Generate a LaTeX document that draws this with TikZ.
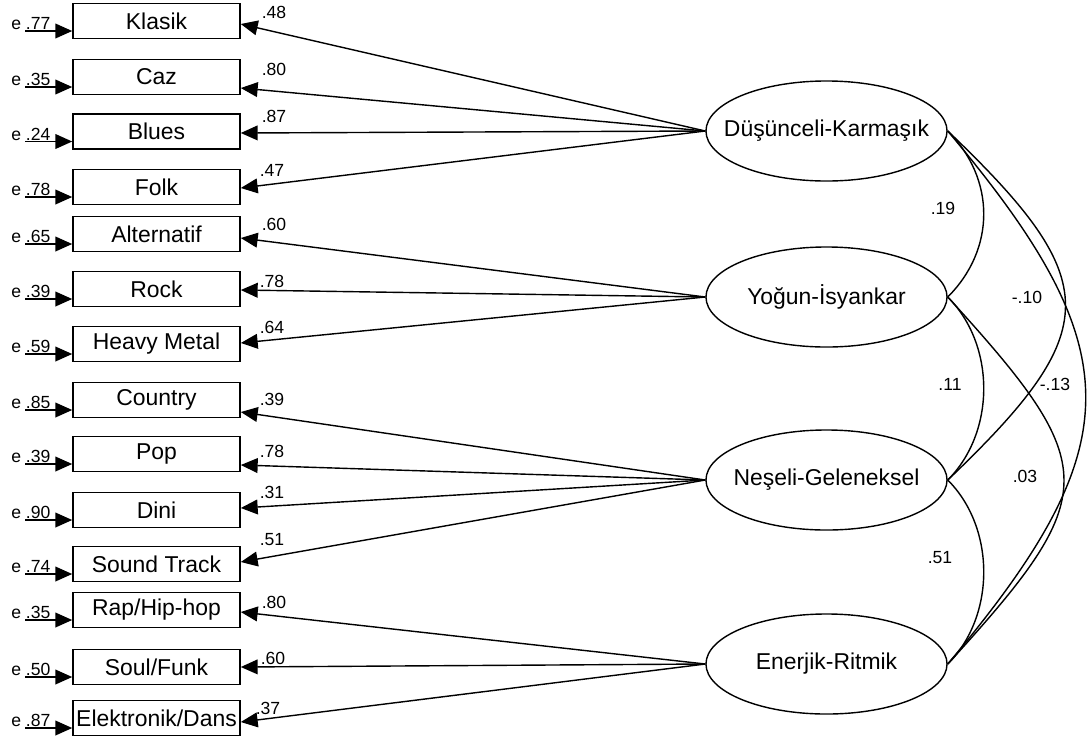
\documentclass[tikz,border=0pt]{standalone}
\usepackage{fontspec}
\setmainfont{Liberation Sans}
\usetikzlibrary{shapes.geometric,arrows.meta,calc}
\tikzset{
  var/.style={draw, line width=1.1pt, minimum width=4.175cm, minimum height=0.875cm, inner sep=0pt, font=\fontsize{16.3}{18}\selectfont},
  factor/.style={draw, ellipse, line width=1pt, minimum width=6.025cm, minimum height=2.5cm, inner sep=0pt},
  every label/.style={font=\fontsize{16.3}{18}\selectfont, inner sep=0pt},
  coef/.style={font=\fontsize{12.5}{14}\selectfont, inner sep=0pt},
  errlbl/.style={font=\fontsize{12.5}{14}\selectfont, inner sep=0pt, anchor=base west},
  arr/.style={line width=1pt, -{Triangle[length=12pt,width=10.5pt]}},
  cov/.style={line width=1pt}
}
\begin{document}
\begin{tikzpicture}[x=0.025cm, y=-0.025cm]
\useasboundingbox (0,0) rectangle (1089,744);
%Factors
\node[factor, label=center:{Düşünceli-Karmaşık}] (dk) at (826.5,131) {};
\node[factor, label=center:{Yoğun-İsyankar}] (yi) at (826.5,297) {};
\node[factor, label=center:{Neşeli-Geleneksel}] (ng) at (826.5,480) {};
\node[factor, label=center:{Enerjik-Ritmik}] (er) at (826.5,664) {};
%Observed variables
\node[var] (klasik) at (156.5,21) {Klasik};
\node[var] (caz) at (156.5,77) {Caz};
\node[var] (blues) at (156.5,131.5) {Blues};
\node[var] (folk) at (156.5,187) {Folk};
\node[var] (alternatif) at (156.5,234) {Alternatif};
\node[var] (rock) at (156.5,289) {Rock};
\node[var] (heavy) at (156.5,344) {Heavy Metal};
\node[var] (country) at (156.5,400) {Country};
\node[var] (pop) at (156.5,454) {Pop};
\node[var] (dini) at (156.5,510) {Dini};
\node[var] (sound) at (156.5,564) {Sound Track};
\node[var] (rap) at (156.5,610) {Rap/Hip-hop};
\node[var] (soul) at (156.5,667) {Soul/Funk};
\node[var] (elektronik) at (156.5,718) {Elektronik/Dans};
%Errors
\node[errlbl] (e-klasik) at (11,29.5) {e .77};
\node[errlbl] (e-caz) at (11,85.5) {e .35};
\node[errlbl] (e-blues) at (11,140) {e .24};
\node[errlbl] (e-folk) at (11,195.5) {e .78};
\node[errlbl] (e-alternatif) at (11,242.5) {e .65};
\node[errlbl] (e-rock) at (11,297.5) {e .39};
\node[errlbl] (e-heavy) at (11,352.5) {e .59};
\node[errlbl] (e-country) at (11,408.5) {e .85};
\node[errlbl] (e-pop) at (11,462.5) {e .39};
\node[errlbl] (e-dini) at (11,518.5) {e .90};
\node[errlbl] (e-sound) at (11,572.5) {e .74};
\node[errlbl] (e-rap) at (11,618.5) {e .35};
\node[errlbl] (e-soul) at (11,675.5) {e .50};
\node[errlbl] (e-elektronik) at (11,726.5) {e .87};
\draw[arr] (klasik.west) ++(-47,10) -- ++(47,0);
\draw[arr] (caz.west) ++(-47,10) -- ++(47,0);
\draw[arr] (blues.west) ++(-47,10) -- ++(47,0);
\draw[arr] (folk.west) ++(-47,10) -- ++(47,0);
\draw[arr] (alternatif.west) ++(-47,10) -- ++(47,0);
\draw[arr] (rock.west) ++(-47,10) -- ++(47,0);
\draw[arr] (heavy.west) ++(-47,10) -- ++(47,0);
\draw[arr] (country.west) ++(-47,10) -- ++(47,0);
\draw[arr] (pop.west) ++(-47,10) -- ++(47,0);
\draw[arr] (dini.west) ++(-47,10) -- ++(47,0);
\draw[arr] (sound.west) ++(-47,10) -- ++(47,0);
\draw[arr] (rap.west) ++(-47,10) -- ++(47,0);
\draw[arr] (soul.west) ++(-47,10) -- ++(47,0);
\draw[arr] (elektronik.west) ++(-47,10) -- ++(47,0);
%Loadings
\draw[arr] (dk.west) -- ($(klasik.east)+(0,3)$);
\draw[arr] (dk.west) -- ($(caz.east)+(0,11)$);
\draw[arr] (dk.west) -- ($(blues.east)+(0,1.5)$);
\draw[arr] (dk.west) -- ($(folk.east)+(0,1)$);
\draw[arr] (yi.west) -- ($(alternatif.east)+(0,4)$);
\draw[arr] (yi.west) -- ($(rock.east)+(0,1)$);
\draw[arr] (yi.west) -- ($(heavy.east)+(0,-1)$);
\draw[arr] (ng.west) -- ($(country.east)+(0,12)$);
\draw[arr] (ng.west) -- ($(pop.east)+(0,11)$);
\draw[arr] (ng.west) -- ($(dini.east)+(0,-2)$);
\draw[arr] (ng.west) -- ($(sound.east)+(0,-2)$);
\draw[arr] (er.west) -- ($(rap.east)+(0,2)$);
\draw[arr] (er.west) -- (soul.east);
\draw[arr] (er.west) -- ($(elektronik.east)+(0,4)$);
\node[coef] at (274,12) {.48};
\node[coef] at (274,69) {.80};
\node[coef] at (274,116) {.87};
\node[coef] at (272,170) {.47};
\node[coef] at (274,224) {.60};
\node[coef] at (272,281) {.78};
\node[coef] at (272,327) {.64};
\node[coef] at (272,399) {.39};
\node[coef] at (272,451) {.78};
\node[coef] at (272,492) {.31};
\node[coef] at (272,540) {.51};
\node[coef] at (274,602) {.80};
\node[coef] at (273,658) {.60};
\node[coef] at (268,708) {.37};
%Covariances
\draw[cov] (dk.east) .. controls +(48,48) and +(48,-48) .. (yi.east);
\draw[cov] (yi.east) .. controls +(48,48) and +(48,-48) .. (ng.east);
\draw[cov] (ng.east) .. controls +(48,48) and +(48,-48) .. (er.east);
\draw[cov] (dk.east) .. controls +(157,150) and +(157,-150) .. (ng.east);
\draw[cov] (yi.east) .. controls +(155,170) and +(155,-170) .. (er.east);
\draw[cov] (dk.east) .. controls +(184,219) and +(184,-219) .. (er.east);
\node[coef] at (943,208) {.19};
\node[coef] at (1027,297) {-.10};
\node[coef] at (950,384) {.11};
\node[coef] at (1055,384) {-.13};
\node[coef] at (1025,476) {.03};
\node[coef] at (940,558) {.51};
\end{tikzpicture}
\end{document}
